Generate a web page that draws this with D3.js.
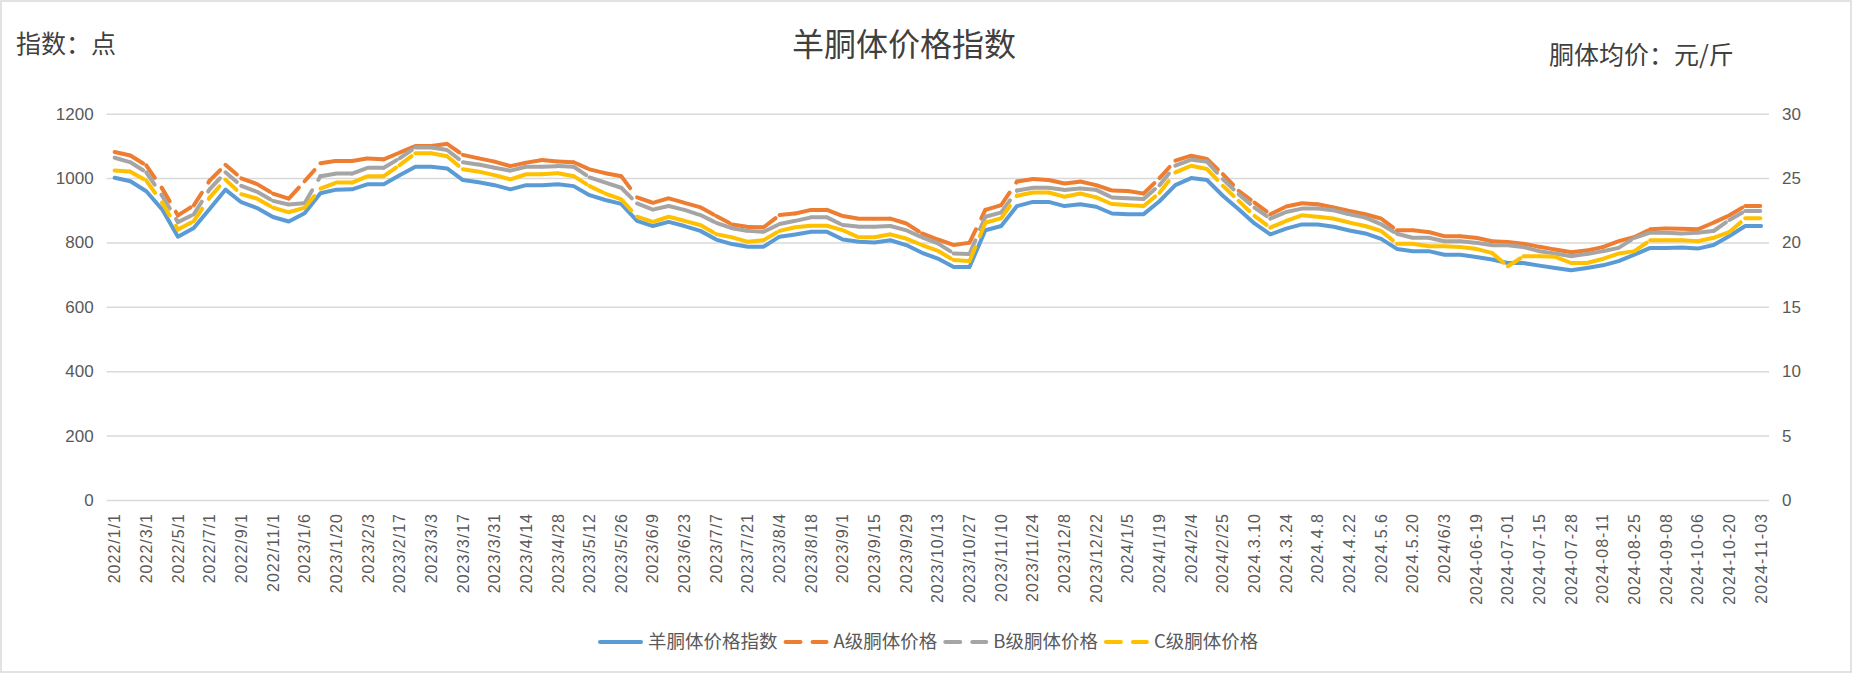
<!DOCTYPE html>
<html>
<head>
<meta charset="utf-8">
<script src="https://cdn.jsdelivr.net/npm/d3@7/dist/d3.min.js"></script>
<style>
  body { margin: 0; background: #fff; }
  svg { display: block; }
</style>
</head>
<body>
<svg id="chart" width="1853" height="674"></svg>
<script>
var categories = [
    "2022/1/1", "2022/2/1", "2022/3/1", "2022/4/1", "2022/5/1", "2022/6/1", "2022/7/1", "2022/8/1",
    "2022/9/1", "2022/10/1", "2022/11/1", "2022/12/1", "2023/1/6", "2023/1/13", "2023/1/20", "2023/1/27",
    "2023/2/3", "2023/2/10", "2023/2/17", "2023/2/24", "2023/3/3", "2023/3/10", "2023/3/17", "2023/3/24",
    "2023/3/31", "2023/4/7", "2023/4/14", "2023/4/21", "2023/4/28", "2023/5/5", "2023/5/12", "2023/5/19",
    "2023/5/26", "2023/6/2", "2023/6/9", "2023/6/16", "2023/6/23", "2023/6/30", "2023/7/7", "2023/7/14",
    "2023/7/21", "2023/7/28", "2023/8/4", "2023/8/11", "2023/8/18", "2023/8/25", "2023/9/1", "2023/9/8",
    "2023/9/15", "2023/9/22", "2023/9/29", "2023/10/6", "2023/10/13", "2023/10/20", "2023/10/27", "2023/11/3",
    "2023/11/10", "2023/11/17", "2023/11/24", "2023/12/1", "2023/12/8", "2023/12/15", "2023/12/22", "2023/12/29",
    "2024/1/5", "2024/1/12", "2024/1/19", "2024/1/26", "2024/2/4", "2024/2/18", "2024/2/25", "2024.3.3",
    "2024.3.10", "2024.3.17", "2024.3.24", "2024.4.1", "2024.4.8", "2024.4.15", "2024.4.22", "2024.4.29",
    "2024.5.6", "2024.5.13", "2024.5.20", "2024.5.27", "2024/6/3", "2024/6/11", "2024-06-19", "2024-06-24",
    "2024-07-01", "2024-07-08", "2024-07-15", "2024-07-21", "2024-07-28", "2024-08-04", "2024-08-11", "2024-08-18",
    "2024-08-25", "2024-09-01", "2024-09-08", "2024-09-22", "2024-10-06", "2024-10-13", "2024-10-20", "2024-10-27",
    "2024-11-03"
];

// 羊胴体价格指数 (点, left axis)
var indexValues = [
    1001, 990, 959, 903, 818, 845, 904, 964, 925, 907, 879, 865, 891, 953, 964, 965,
    981, 981, 1009, 1035, 1035, 1030, 994, 987, 978, 965, 978, 978, 981, 975, 947, 932,
    920, 867, 851, 864, 851, 836, 809, 795, 787, 787, 818, 825, 833, 833, 809, 802,
    800, 807, 792, 768, 750, 724, 724, 838, 851, 913, 926, 926, 913, 919, 911, 890,
    888, 888, 928, 978, 1000, 994, 945, 903, 859, 825, 843, 856, 856, 849, 837, 828,
    811, 780, 773, 773, 762, 762, 755, 747, 736, 736, 728, 721, 714, 721, 729, 742,
    762, 783, 783, 784, 781, 792, 820, 851, 851
];

// A/B/C级胴体价格 (元/斤, right axis)
var gradeA = [
    27.03, 26.75, 25.98, 24.2, 22.1, 22.88, 24.8, 26.03, 24.98, 24.53, 23.8, 23.4, 24.75, 26.15, 26.33, 26.33,
    26.53, 26.45, 26.98, 27.5, 27.5, 27.65, 26.8, 26.53, 26.28, 25.93, 26.2, 26.4, 26.28, 26.23, 25.68, 25.38,
    25.15, 23.5, 23.08, 23.43, 23.08, 22.73, 22.05, 21.4, 21.2, 21.18, 22.13, 22.25, 22.53, 22.53, 22.05, 21.85,
    21.85, 21.85, 21.48, 20.7, 20.23, 19.8, 19.98, 22.53, 22.9, 24.73, 24.93, 24.85, 24.58, 24.73, 24.45, 24.03,
    24.0, 23.8, 25.0, 26.35, 26.74, 26.48, 25.31, 24.01, 23.1, 22.19, 22.79, 23.05, 22.97, 22.71, 22.45, 22.19,
    21.85, 20.94, 20.94, 20.81, 20.49, 20.49, 20.36, 20.1, 20.03, 19.9, 19.66, 19.45, 19.24, 19.38, 19.64, 20.1,
    20.42, 21.02, 21.09, 21.07, 21.02, 21.54, 22.11, 22.84, 22.84
];
var gradeB = [
    26.58, 26.23, 25.45, 23.63, 21.58, 22.18, 24.13, 25.45, 24.4, 23.93, 23.23, 22.95, 23.05, 25.15, 25.35, 25.35,
    25.8, 25.8, 26.53, 27.38, 27.38, 27.18, 26.23, 26.05, 25.8, 25.58, 25.88, 25.88, 25.93, 25.88, 25.05, 24.65,
    24.25, 23.03, 22.55, 22.83, 22.53, 22.13, 21.53, 21.1, 20.9, 20.83, 21.43, 21.68, 21.95, 21.95, 21.35, 21.23,
    21.23, 21.28, 20.95, 20.4, 19.93, 19.15, 19.1, 22.0, 22.33, 24.03, 24.25, 24.25, 24.08, 24.2, 24.08, 23.5,
    23.43, 23.38, 24.45, 25.96, 26.43, 26.28, 24.92, 23.75, 22.71, 21.85, 22.37, 22.63, 22.63, 22.5, 22.19, 21.93,
    21.41, 20.68, 20.36, 20.36, 20.1, 20.1, 19.97, 19.79, 19.79, 19.64, 19.32, 19.14, 18.93, 19.11, 19.32, 19.58,
    20.36, 20.76, 20.76, 20.7, 20.76, 20.89, 21.74, 22.45, 22.45
];
var gradeC = [
    25.58, 25.5, 24.8, 23.1, 21.0, 21.65, 23.48, 24.88, 23.75, 23.4, 22.7, 22.35, 22.7, 24.18, 24.65, 24.65,
    25.15, 25.15, 26.0, 26.93, 26.93, 26.7, 25.68, 25.5, 25.23, 24.9, 25.3, 25.3, 25.38, 25.15, 24.38, 23.8,
    23.35, 22.0, 21.6, 22.0, 21.68, 21.35, 20.65, 20.4, 20.05, 20.18, 20.9, 21.18, 21.3, 21.3, 20.95, 20.4,
    20.4, 20.63, 20.3, 19.8, 19.35, 18.63, 18.55, 21.53, 21.88, 23.63, 23.88, 23.88, 23.55, 23.8, 23.5, 22.98,
    22.9, 22.83, 23.85, 25.44, 25.96, 25.7, 24.4, 23.23, 22.06, 21.15, 21.67, 22.11, 22.0, 21.85, 21.54, 21.28,
    20.89, 19.9, 19.9, 19.71, 19.71, 19.64, 19.5, 19.19, 18.15, 18.93, 18.93, 18.88, 18.41, 18.41, 18.72, 19.14,
    19.32, 20.18, 20.18, 20.18, 20.1, 20.36, 20.81, 21.88, 21.88
];

var leftTicks = [0, 200, 400, 600, 800, 1000, 1200];
var rightTicks = [0, 5, 10, 15, 20, 25, 30];
var seriesNames = ["羊胴体价格指数", "A级胴体价格", "B级胴体价格", "C级胴体价格"];

var numFont = "'Liberation Sans', Arial, sans-serif";
var cjkFont = "'Noto Sans CJK SC', 'Noto Sans', sans-serif";

var plot = { left: 106.7, right: 1769, top: 113.7, bottom: 500 };

var svg = d3.select("#chart");

svg.append("rect")
    .attr("x", 1).attr("y", 1)
    .attr("width", 1850).attr("height", 671)
    .attr("fill", "#fff")
    .attr("stroke", "#D9D9D9")
    .attr("stroke-width", 1.5);

var x = d3.scaleBand().domain(categories).range([plot.left, plot.right]).padding(0);
var yLeft = d3.scaleLinear().domain([0, 1200]).range([plot.bottom, plot.top]);
var yRight = d3.scaleLinear().domain([0, 30]).range([plot.bottom, plot.top]);

function cx(c) { return x(c) + x.bandwidth() / 2; }

// left axis + gridlines
var leftG = svg.append("g")
    .attr("transform", "translate(" + plot.left + ",0)")
    .call(d3.axisLeft(yLeft).tickValues(leftTicks).tickFormat(d3.format("d"))
        .tickSize(-(plot.right - plot.left)).tickPadding(13));
leftG.select(".domain").remove();
leftG.selectAll(".tick line").attr("stroke", "#D9D9D9").attr("stroke-width", 1.5);
leftG.selectAll(".tick text")
    .attr("fill", "#595959")
    .style("font-family", numFont)
    .style("font-size", "17px");

// right axis
var rightG = svg.append("g")
    .attr("transform", "translate(" + plot.right + ",0)")
    .call(d3.axisRight(yRight).tickValues(rightTicks).tickFormat(d3.format("d"))
        .tickSize(0).tickPadding(13));
rightG.select(".domain").remove();
rightG.selectAll(".tick text")
    .attr("fill", "#595959")
    .style("font-family", numFont)
    .style("font-size", "17px");

// category axis, every other label
var xG = svg.append("g")
    .attr("transform", "translate(0," + plot.bottom + ")")
    .call(d3.axisBottom(x)
        .tickValues(categories.filter(function(d, i) { return i % 2 === 0; }))
        .tickSize(0));
xG.select(".domain").remove();
xG.selectAll(".tick text")
    .attr("transform", "rotate(-90)")
    .attr("x", -13)
    .attr("y", 0)
    .attr("dy", "0.35em")
    .attr("fill", "#595959")
    .style("text-anchor", "end")
    .style("font-family", numFont)
    .style("font-size", "16px")
    .style("letter-spacing", "1px");

var series = [
    { name: seriesNames[0], values: indexValues, y: yLeft, color: "#5B9BD5", dashed: false },
    { name: seriesNames[1], values: gradeA, y: yRight, color: "#ED7D31", dashed: true },
    { name: seriesNames[2], values: gradeB, y: yRight, color: "#A5A5A5", dashed: true },
    { name: seriesNames[3], values: gradeC, y: yRight, color: "#FFC000", dashed: true }
];

var dash = "15 12";

series.forEach(function(s) {
    var line = d3.line()
        .x(function(d) { return cx(d.c); })
        .y(function(d) { return s.y(d.v); });
    var pts = s.values.map(function(v, i) { return { c: categories[i], v: v }; });
    var g = svg.append("g")
        .attr("fill", "none")
        .attr("stroke", s.color)
        .attr("stroke-width", 4)
        .attr("stroke-linecap", "round")
        .attr("stroke-linejoin", "round");
    if (!s.dashed) {
        g.append("path").attr("d", line(pts));
    } else {
        // the dash pattern restarts at every data point
        g.selectAll("path")
            .data(d3.pairs(pts))
            .enter()
            .append("path")
            .attr("stroke-dasharray", dash)
            .attr("d", function(d) { return line(d); });
    }
});

// titles
svg.append("text")
    .attr("x", 904).attr("y", 56)
    .attr("text-anchor", "middle")
    .attr("fill", "#404040")
    .style("font-family", cjkFont)
    .style("font-size", "32px")
    .text("羊胴体价格指数");

svg.append("text")
    .attr("x", 16).attr("y", 53)
    .attr("fill", "#404040")
    .style("font-family", cjkFont)
    .style("font-size", "25px")
    .text("指数：点");

svg.append("text")
    .attr("x", 1549).attr("y", 64)
    .attr("fill", "#404040")
    .style("font-family", cjkFont)
    .style("font-size", "25px")
    .text("胴体均价：元/斤");

// legend
var legend = svg.append("g").attr("transform", "translate(0,642)");
var lx = 598;
series.forEach(function(s) {
    legend.append("path")
        .attr("d", "M" + (lx + 2) + ",0H" + (lx + 43))
        .attr("stroke", s.color)
        .attr("stroke-width", 4)
        .attr("stroke-linecap", "round")
        .attr("stroke-dasharray", s.dashed ? dash : null);
    var t = legend.append("text")
        .attr("x", lx + 50)
        .attr("y", 0)
        .attr("dy", "0.35em")
        .attr("fill", "#595959")
        .style("font-family", cjkFont)
        .style("font-size", "18.5px")
        .text(s.name);
    lx = lx + 50 + t.node().getComputedTextLength() + 6;
});
</script>
</body>
</html>
